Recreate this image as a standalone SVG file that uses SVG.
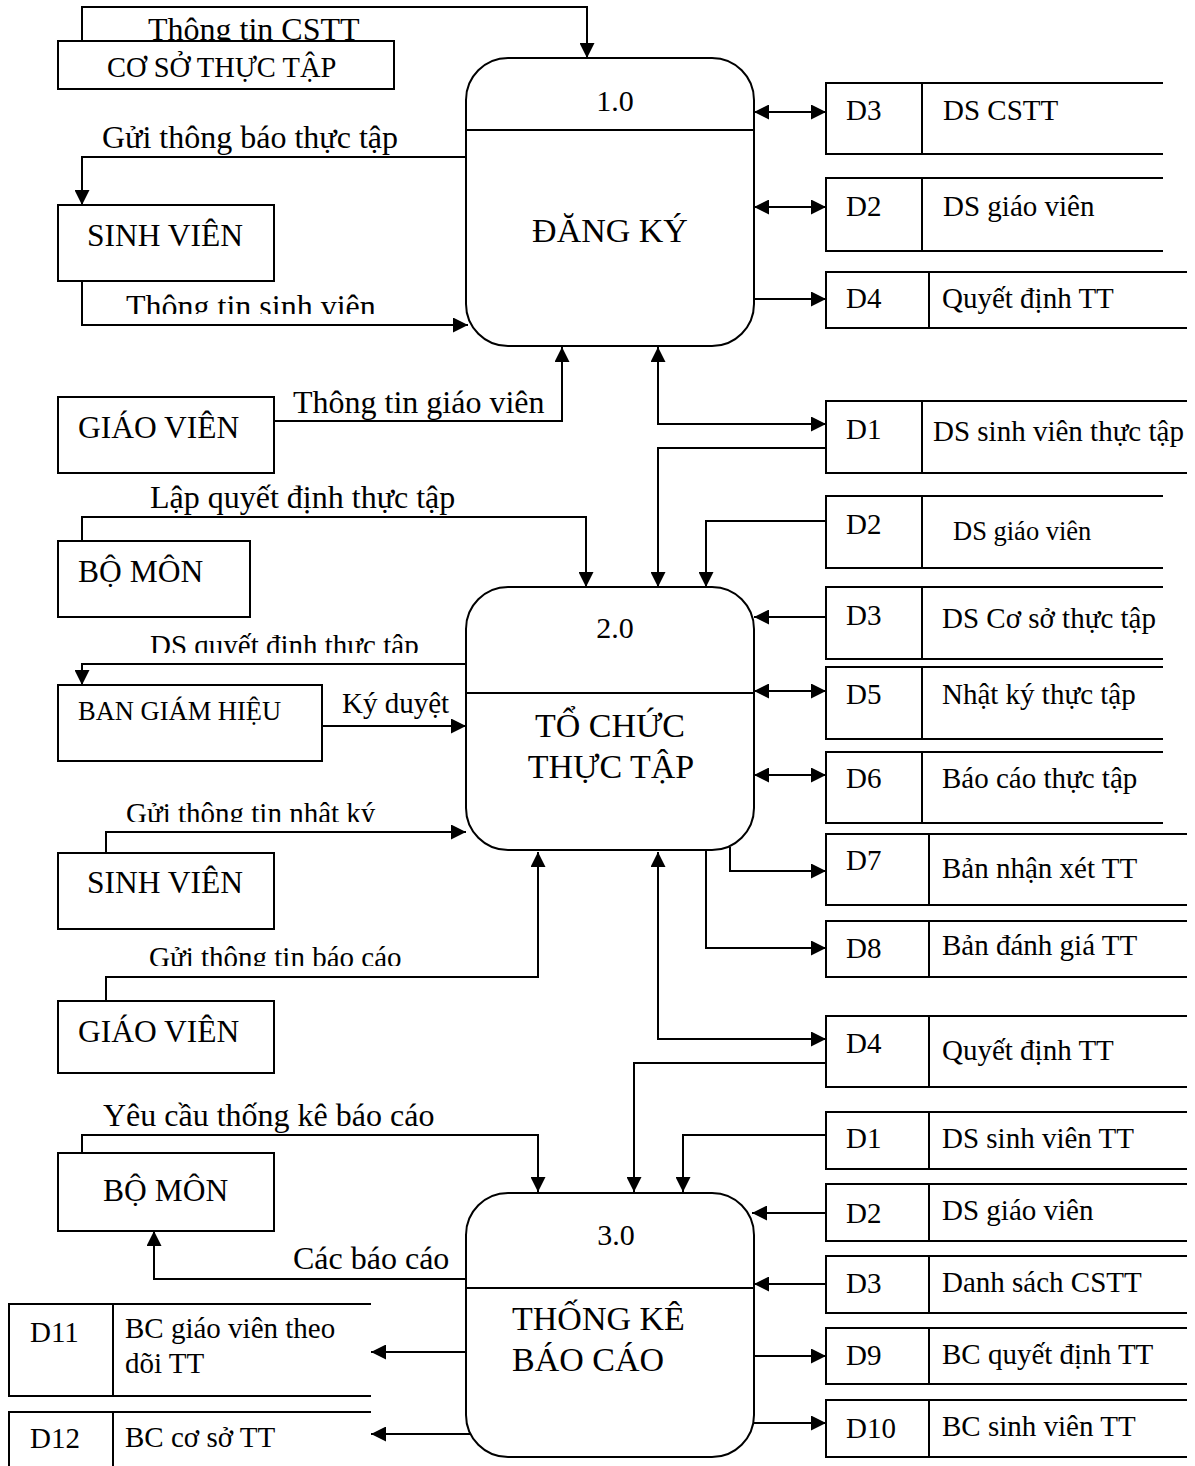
<svg xmlns="http://www.w3.org/2000/svg" width="1195" height="1466" viewBox="0 0 1195 1466">
<style>
.ln{fill:none;stroke:#000;stroke-width:2}
.bx{fill:#fff;stroke:#000;stroke-width:2}
.t{font-family:"Liberation Serif","Times New Roman",serif;fill:#000}
.lb{font-size:32px}
.ls{font-size:29px}
.en{font-size:31.5px}
.pn{font-size:30px;text-anchor:middle}
.pt{font-size:34px}
.st{font-size:29px}
.ar{marker-end:url(#ah)}
.da{marker-start:url(#ah);marker-end:url(#ah)}
</style>
<defs>
<marker id="ah" viewBox="0 0 15 15" refX="15" refY="7.5" markerWidth="15" markerHeight="15" markerUnits="userSpaceOnUse" orient="auto-start-reverse">
<path d="M0,0 L15,7.5 L0,15 z" fill="#000"/>
</marker>
<clipPath id="c1"><rect x="0" y="0" width="600" height="314"/></clipPath>
<clipPath id="c2"><rect x="0" y="0" width="600" height="653"/></clipPath>
<clipPath id="c3"><rect x="0" y="0" width="600" height="822"/></clipPath>
<clipPath id="c4"><rect x="0" y="0" width="600" height="966"/></clipPath>
</defs>
<rect width="1195" height="1466" fill="#fff"/>

<g id="connectors">
<path class="ln ar" d="M82,41 V7 H587 V58"/>
<path class="ln ar" d="M466,157 H82 V205"/>
<path class="ln ar" d="M82,281 V325 H468"/>
<path class="ln ar" d="M274,421 H562 V347"/>
<path class="ln da" d="M754,112 H826"/>
<path class="ln da" d="M754,207 H826"/>
<path class="ln ar" d="M754,299 H826"/>
<path class="ln da" d="M658,347 V424 H826"/>
<path class="ln ar" d="M826,448 H658 V587"/>
<path class="ln ar" d="M82,541 V517 H586 V587"/>
<path class="ln ar" d="M826,521 H706 V587"/>
<path class="ln ar" d="M826,617 H754"/>
<path class="ln da" d="M754,691 H826"/>
<path class="ln da" d="M754,775 H826"/>
<path class="ln ar" d="M730,847 V871 H826"/>
<path class="ln ar" d="M706,850 V948 H826"/>
<path class="ln da" d="M658,852 V1039 H826"/>
<path class="ln ar" d="M826,1063 H634 V1192"/>
<path class="ln ar" d="M826,1135 H683 V1192"/>
<path class="ln ar" d="M82,1153 V1135 H538 V1192"/>
<path class="ln ar" d="M466,1279 H154 V1231"/>
<path class="ln ar" d="M466,664 H82 V685"/>
<path class="ln ar" d="M322,726 H466"/>
<path class="ln ar" d="M106,857 V832 H466"/>
<path class="ln ar" d="M106,1001 V977 H538 V852"/>
<path class="ln ar" d="M826,1213 H752"/>
<path class="ln ar" d="M826,1284 H754"/>
<path class="ln ar" d="M754,1356 H826"/>
<path class="ln ar" d="M754,1423 H826"/>
<path class="ln ar" d="M466,1352 H371"/>
<path class="ln ar" d="M470,1434 H371"/>
<g id="flow-labels">
<text class="t lb" x="148" y="40">Thông tin CSTT</text>
<text class="t lb" x="102" y="148">Gửi thông báo thực tập</text>
<text class="t lb" x="126" y="317" clip-path="url(#c1)">Thông tin sinh viên</text>
<text class="t lb" x="293" y="413">Thông tin giáo viên</text>
<text class="t lb" x="150" y="508">Lập quyết định thực tập</text>
<text class="t ls" x="150" y="655" clip-path="url(#c2)">DS quyết định thực tập</text>
<text class="t ls" x="342" y="713">Ký duyệt</text>
<text class="t ls" x="126" y="823" clip-path="url(#c3)">Gửi thông tin nhật ký</text>
<text class="t ls" x="149" y="967" clip-path="url(#c4)">Gửi thông tin báo cáo</text>
<text class="t lb" x="103" y="1126">Yêu cầu thống kê báo cáo</text>
<text class="t lb" x="293" y="1269">Các báo cáo</text>
</g>
</g>

<g id="ext-csst"><rect class="bx" x="58" y="41" width="336" height="48"/><text class="t" style="font-size:28.5px" x="107" y="77">CƠ SỞ THỰC TẬP</text></g>
<g id="ext-sv1"><rect class="bx" x="58" y="205" width="216" height="76"/><text class="t en" x="87" y="246">SINH VIÊN</text></g>
<g id="ext-gv1"><rect class="bx" x="58" y="397" width="216" height="76"/><text class="t en" x="78" y="438">GIÁO VIÊN</text></g>
<g id="ext-bm1"><rect class="bx" x="58" y="541" width="192" height="76"/><text class="t en" x="78" y="582">BỘ MÔN</text></g>
<g id="ext-bgh"><rect class="bx" x="58" y="685" width="264" height="76"/><text class="t" style="font-size:26.5px" x="78" y="720">BAN GIÁM HIỆU</text></g>
<g id="ext-sv2"><rect class="bx" x="58" y="853" width="216" height="76"/><text class="t en" x="87" y="893">SINH VIÊN</text></g>
<g id="ext-gv2"><rect class="bx" x="58" y="1001" width="216" height="72"/><text class="t en" x="78" y="1042">GIÁO VIÊN</text></g>
<g id="ext-bm2"><rect class="bx" x="58" y="1153" width="216" height="78"/><text class="t en" x="103" y="1201">BỘ MÔN</text></g>

<g id="p1"><rect class="bx" x="466" y="58" width="288" height="288" rx="42"/><path class="ln" d="M466,130 H754"/><text class="t pn" x="615" y="111">1.0</text><text class="t pt" x="610" y="242" text-anchor="middle">ĐĂNG KÝ</text></g>
<g id="p2"><rect class="bx" x="466" y="587" width="288" height="263" rx="42"/><path class="ln" d="M466,693 H754"/><text class="t pn" x="615" y="638">2.0</text><text class="t pt" x="610" y="737" text-anchor="middle">TỔ CHỨC</text><text class="t pt" x="611" y="778" text-anchor="middle">THỰC TẬP</text></g>
<g id="p3"><rect class="bx" x="466" y="1193" width="288" height="264" rx="42"/><path class="ln" d="M466,1288 H754"/><text class="t pn" x="616" y="1245">3.0</text><text class="t pt" x="512" y="1330">THỐNG KÊ</text><text class="t pt" x="512" y="1371">BÁO CÁO</text></g>

<g id="s-d3a"><path class="ln" d="M1163,83 H826 V154 H1163 M922,83 V154"/><text class="t st" x="846" y="120">D3</text><text class="t st" x="943" y="120">DS CSTT</text></g>
<g id="s-d2a"><path class="ln" d="M1163,178 H826 V251 H1163 M922,178 V251"/><text class="t st" x="846" y="216">D2</text><text class="t st" x="943" y="216">DS giáo viên</text></g>
<g id="s-d4a"><path class="ln" d="M1187,272 H826 V328 H1187 M929,272 V328"/><text class="t st" x="846" y="308">D4</text><text class="t st" x="942" y="308">Quyết định TT</text></g>
<g id="s-d1a"><path class="ln" d="M1187,401 H826 V473 H1187 M922,401 V473"/><text class="t st" x="846" y="439">D1</text><text class="t st" x="933" y="441">DS sinh viên thực tập</text></g>
<g id="s-d2b"><path class="ln" d="M1163,496 H826 V568 H1163 M922,496 V568"/><text class="t st" x="846" y="534">D2</text><text class="t" style="font-size:26.5px" x="953" y="540">DS giáo viên</text></g>
<g id="s-d3b"><path class="ln" d="M1163,587 H826 V659 H1163 M922,587 V659"/><text class="t st" x="846" y="625">D3</text><text class="t st" x="942" y="628">DS Cơ sở thực tập</text></g>
<g id="s-d5"><path class="ln" d="M1163,667 H826 V739 H1163 M922,667 V739"/><text class="t st" x="846" y="704">D5</text><text class="t st" x="942" y="704">Nhật ký thực tập</text></g>
<g id="s-d6"><path class="ln" d="M1163,752 H826 V823 H1163 M922,752 V823"/><text class="t st" x="846" y="788">D6</text><text class="t st" x="942" y="788">Báo cáo thực tập</text></g>
<g id="s-d7"><path class="ln" d="M1187,834 H826 V905 H1187 M929,834 V905"/><text class="t st" x="846" y="870">D7</text><text class="t st" x="942" y="878">Bản nhận xét TT</text></g>
<g id="s-d8"><path class="ln" d="M1187,921 H826 V977 H1187 M929,921 V977"/><text class="t st" x="846" y="958">D8</text><text class="t st" x="942" y="955">Bản đánh giá TT</text></g>
<g id="s-d4b"><path class="ln" d="M1187,1016 H826 V1087 H1187 M929,1016 V1087"/><text class="t st" x="846" y="1053">D4</text><text class="t st" x="942" y="1060">Quyết định TT</text></g>
<g id="s-d1b"><path class="ln" d="M1187,1112 H826 V1169 H1187 M929,1112 V1169"/><text class="t st" x="846" y="1148">D1</text><text class="t st" x="942" y="1148">DS sinh viên TT</text></g>
<g id="s-d2c"><path class="ln" d="M1187,1184 H826 V1241 H1187 M929,1184 V1241"/><text class="t st" x="846" y="1223">D2</text><text class="t st" x="942" y="1220">DS giáo viên</text></g>
<g id="s-d3c"><path class="ln" d="M1187,1256 H826 V1313 H1187 M929,1256 V1313"/><text class="t st" x="846" y="1293">D3</text><text class="t st" x="942" y="1292">Danh sách CSTT</text></g>
<g id="s-d9"><path class="ln" d="M1187,1328 H826 V1384 H1187 M929,1328 V1384"/><text class="t st" x="846" y="1365">D9</text><text class="t st" x="942" y="1364">BC quyết định TT</text></g>
<g id="s-d10"><path class="ln" d="M1187,1400 H826 V1457 H1187 M929,1400 V1457"/><text class="t st" x="846" y="1438">D10</text><text class="t st" x="942" y="1436">BC sinh viên TT</text></g>
<g id="s-d11"><path class="ln" d="M371,1304 H9 V1396 H371 M113,1304 V1396"/><text class="t st" x="30" y="1342">D11</text><text class="t st" x="125" y="1338">BC giáo viên theo</text><text class="t st" x="125" y="1373">dõi TT</text></g>
<g id="s-d12"><path class="ln" d="M371,1412 H9 V1470 M113,1412 V1470"/><text class="t st" x="30" y="1448">D12</text><text class="t st" x="125" y="1447">BC cơ sở TT</text></g>
</svg>
